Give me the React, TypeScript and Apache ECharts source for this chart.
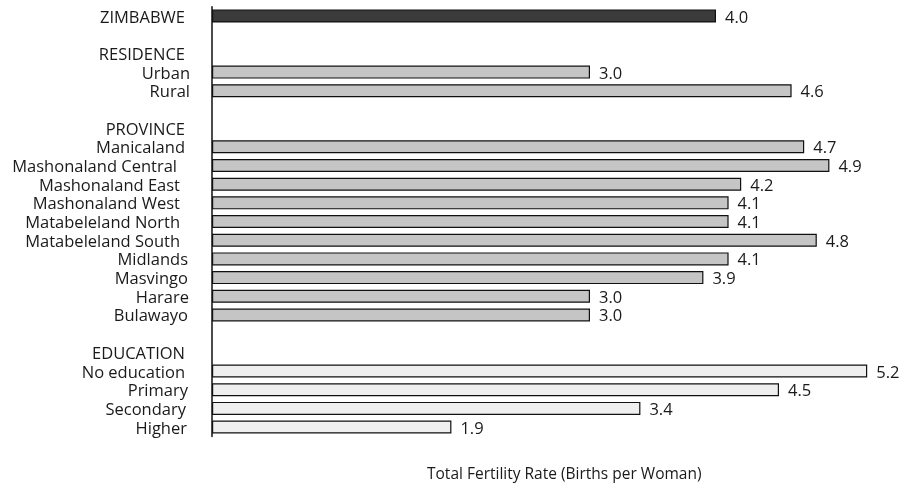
import React, { useEffect, useRef } from "react";
import * as echarts from "echarts";

const categories = [
  "ZIMBABWE", "", "RESIDENCE", "Urban", "Rural", "", "PROVINCE",
  "Manicaland", "Mashonaland Central", "Mashonaland East", "Mashonaland West",
  "Matabeleland North", "Matabeleland South", "Midlands", "Masvingo", "Harare", "Bulawayo",
  "", "EDUCATION", "No education", "Primary", "Secondary", "Higher",
];
const values: (number | null)[] = [
  4.0, null, null, 3.0, 4.6, null, null,
  4.7, 4.9, 4.2, 4.1, 4.1, 4.8, 4.1, 3.9, 3.0, 3.0,
  null, null, 5.2, 4.5, 3.4, 1.9,
];
const groups = [
  "total", "", "", "residence", "residence", "", "",
  "province", "province", "province", "province", "province", "province", "province", "province", "province", "province",
  "", "", "education", "education", "education", "education",
];
const axisTitle = "Total Fertility Rate (Births per Woman)";

// label right-edge indents (layout only)
const labelIndent = [5, 0, 5, 0, 0, 0, 5, 5, 13, 10, 10, 10, 10, 2, 2, 1, 2, 0, 5, 5, 2, 4, 3];

const FONT = "'Open Sans'";

export default function App() {
  const ref = useRef<HTMLDivElement>(null);
  useEffect(() => {
    const chart = echarts.init(ref.current!, undefined, { renderer: "svg" });
    const fills: Record<string, string> = {
      total: "#3b3b3b",
      residence: "#c5c5c5",
      province: "#c5c5c5",
      education: "#efefef",
    };
    const rich: Record<string, any> = {};
    labelIndent.forEach((p, i) => {
      rich["r" + i] = { fontFamily: FONT, fontSize: 16.5, lineHeight: 17, color: "#1a1a1a", padding: [0, p, 0, 0] };
    });
    chart.setOption({
      animation: false,
      grid: { left: 212, top: 6.7, width: 5.5 * 126, height: 429.7, containLabel: false },
      xAxis: {
        type: "value", min: 0, max: 5.5,
        axisLine: { show: false }, axisTick: { show: false }, axisLabel: { show: false },
        splitLine: { show: false },
      },
      yAxis: {
        type: "category", inverse: true, data: categories,
        axisLine: { show: true, lineStyle: { color: "#111", width: 1.5 } },
        axisTick: { show: false },
        axisLabel: {
          margin: 22, interval: 0,
          formatter: (v: string, i: number) => (v ? `{r${i}|${v}}` : ""),
          rich,
        },
      },
      series: [
        {
          type: "bar",
          barWidth: 13,
          data: values.map((v, i) => ({
            value: v === null ? "-" : v,
            itemStyle: { color: fills[groups[i]] || "#ccc", borderColor: "#111", borderWidth: 1.2 },
          })),
          label: {
            show: true, position: "right", distance: 9,
            fontFamily: FONT, fontSize: 16.5, lineHeight: 17, color: "#1a1a1a",
            formatter: (p: any) => Number(p.value).toFixed(1),
          },
        },
      ],
      graphic: [
        {
          type: "text", left: 427, top: 465,
          style: { text: axisTitle, font: `15.5px ${FONT}`, fill: "#1a1a1a" },
        },
      ],
    });
    return () => chart.dispose();
  }, []);
  return <div ref={ref} style={{ position: "fixed", left: 0, top: 0, width: 913, height: 489 }} />;
}
